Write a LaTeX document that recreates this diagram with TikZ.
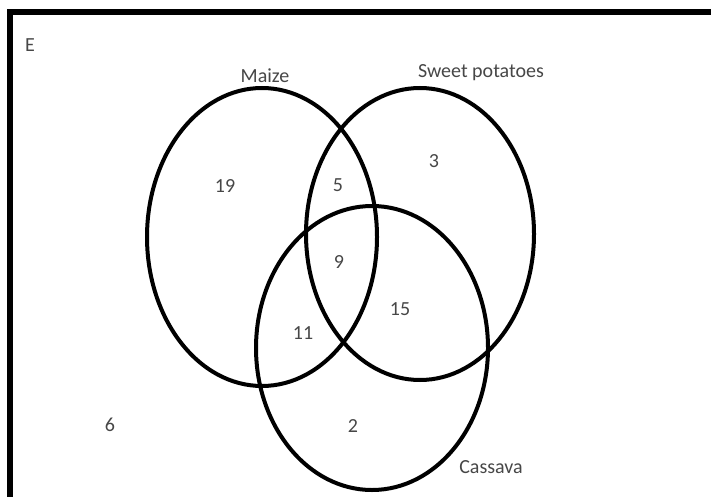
\documentclass[tikz,border=0pt]{standalone}
\usepackage{fontspec}
\setmainfont{Carlito}
\begin{document}
\begin{tikzpicture}[x=1pt,y=-1pt,
  setline/.style={line width=4pt,black},
  lbl/.style={text=black!72,font=\fontsize{20}{22}\selectfont,inner sep=0pt}]
\useasboundingbox (0,0) rectangle (711,497);
\clip (0,0) rectangle (711,497);
\fill[white] (0,0) rectangle (711,497);
% universal set frame
\coordinate (bl) at (10,530);
\coordinate (tl) at (10,12);
\coordinate (tr) at (740,12);
\draw[line width=6pt,line join=miter] (bl) -- (tl) -- (tr);
% sets
\draw[setline] (262,237) ellipse [x radius=115,y radius=149];
\draw[setline] (420,234) ellipse [x radius=114,y radius=146];
\draw[setline] (372,348) ellipse [x radius=116,y radius=142];
% labels
\node[lbl] (E) at (30,45) {E};
\node[lbl] (maize) at (265,76) {Maize};
\node[lbl] (sweet) at (481,73) {Sweet potatoes};
\node[lbl] (cassava) at (491,467) {Cassava};
\node[lbl] (n19) at (225,186) {19};
\node[lbl] (n5) at (338,185) {5};
\node[lbl] (n3) at (434,161) {3};
\node[lbl] (n9) at (339,262) {9};
\node[lbl] (n11) at (303,333) {11};
\node[lbl] (n15) at (400,309) {15};
\node[lbl] (n6) at (110,425) {6};
\node[lbl] (n2) at (353,426) {2};
\end{tikzpicture}
\end{document}
